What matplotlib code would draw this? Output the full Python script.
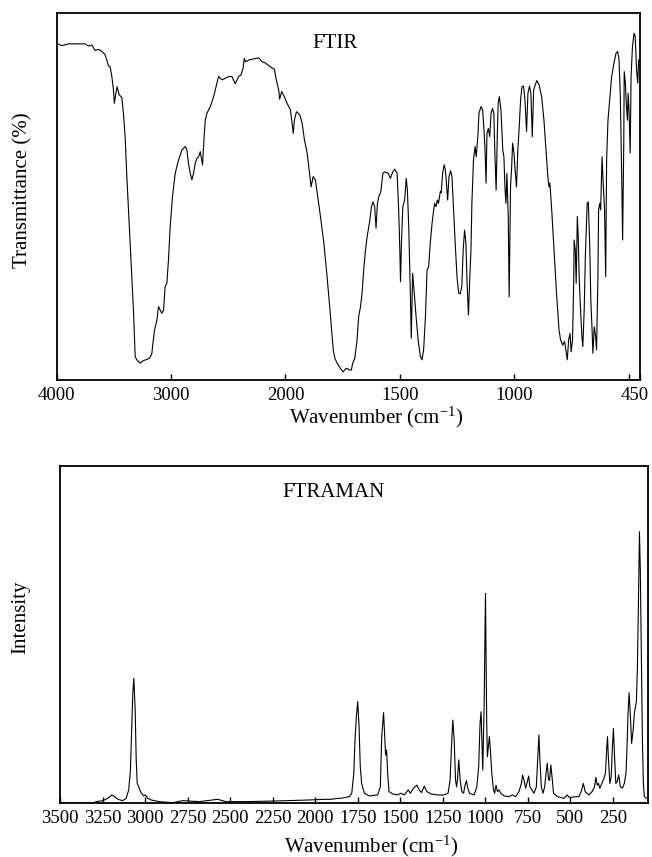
"""
FTIR / FT-Raman spectra, two stacked panels
"""

import numpy as np
import matplotlib
matplotlib.use('Agg')
import matplotlib.pyplot as plt
from matplotlib.transforms import ScaledTranslation

plt.rcParams['font.family'] = ['Liberation Serif', 'DejaVu Serif']
plt.rcParams['mathtext.default'] = 'regular'

# ---------- FTIR data (wavenumber cm-1, transmittance %) ----------
ftir_wn = [4000, 3956, 3898, 3752, 3723, 3694, 3665, 3636, 3606, 3577, 3562, 3548, 3533,
           3518, 3504, 3496, 3483, 3472, 3454, 3431, 3417, 3402, 3387, 3358, 3329, 3314,
           3300, 3271, 3242, 3212, 3192, 3180, 3168, 3159, 3145, 3124, 3110, 3095, 3081,
           3066, 3052, 3037, 3023, 3008, 2988, 2964, 2935, 2905, 2876, 2862, 2848, 2833,
           2818, 2804, 2789, 2774, 2760, 2745, 2725, 2712, 2701, 2686, 2657, 2628, 2614,
           2585, 2555, 2526, 2497, 2468, 2439, 2410, 2389, 2371, 2360, 2348, 2322, 2293,
           2263, 2234, 2205, 2182, 2126, 2097, 2080, 2059, 2051, 2033, 2010, 1996, 1986,
           1978, 1971, 1966, 1961, 1952, 1937, 1927, 1917, 1905, 1898, 1888, 1879, 1869,
           1859, 1847, 1832, 1818, 1803, 1791, 1784, 1774, 1760, 1748, 1738, 1730, 1724,
           1712, 1706, 1697, 1687, 1680, 1672, 1665, 1658, 1650, 1643, 1633, 1624, 1617,
           1610, 1604, 1598, 1592, 1583, 1574, 1566, 1551, 1541, 1531, 1522, 1512, 1505,
           1500, 1497, 1493, 1487, 1479, 1472, 1467, 1461, 1454, 1450, 1444, 1438, 1429,
           1420, 1410, 1403, 1396, 1388, 1381, 1374, 1367, 1359, 1352, 1348, 1342, 1336,
           1331, 1323, 1319, 1313, 1306, 1301, 1296, 1291, 1285, 1278, 1272, 1265, 1258,
           1250, 1243, 1236, 1229, 1223, 1217, 1211, 1206, 1200, 1194, 1189, 1185, 1178,
           1171, 1166, 1159, 1154, 1145, 1138, 1132, 1128, 1123, 1119, 1113, 1107, 1101,
           1095, 1089, 1085, 1079, 1074, 1070, 1065, 1058, 1050, 1045, 1040, 1036, 1032,
           1026, 1022, 1016, 1011, 1007, 1001, 996, 990, 984, 978, 972, 966, 959, 953,
           946, 940, 933, 927, 921, 915, 908, 901, 891, 880, 870, 861, 853, 848, 844,
           836, 826, 815, 804, 797, 788, 780, 774, 768, 762, 756, 751, 745, 740, 738,
           733, 729, 724, 720, 716, 710, 704, 700, 694, 689, 685, 681, 676, 670, 665,
           660, 656, 650, 644, 640, 634, 631, 626, 622, 616, 611, 605, 600, 596, 590,
           584, 574, 564, 555, 548, 542, 536, 530, 526, 521, 519, 514, 510, 505, 502,
           498, 493, 489, 483, 476, 471, 465, 460, 456]
ftir_t = [91.9, 91.2, 91.7, 91.7, 91.1, 91.4, 89.9, 90.2, 89.7, 88.7, 87.3, 85.7, 85.5,
          82.8, 79.1, 75.5, 78.2, 80.0, 77.8, 77.1, 72.8, 66.4, 55.5, 37.3, 19.1, 6.4,
          5.5, 4.6, 5.3, 5.6, 5.9, 6.4, 7.3, 10.0, 13.6, 16.4, 20.0, 19.1, 18.2,
          19.1, 25.5, 26.4, 32.7, 41.8, 50.0, 56.4, 60.0, 62.8, 63.7, 62.8, 59.1, 56.4,
          54.6, 56.4, 59.1, 60.5, 60.9, 62.3, 58.7, 66.0, 70.9, 72.8, 74.6, 77.3, 79.1,
          82.8, 81.9, 82.3, 82.8, 82.8, 80.8, 82.8, 83.2, 85.0, 87.7, 86.8, 87.3, 87.5,
          87.7, 87.9, 86.8, 86.6, 85.3, 84.8, 81.9, 79.1, 76.6, 78.7, 77.3, 75.9, 74.6,
          73.7, 70.0, 67.3, 70.9, 73.2, 72.3, 70.0, 65.5, 61.9, 58.2, 52.7, 55.5, 54.6,
          50.0, 44.6, 37.3, 28.2, 17.3, 8.2, 5.9, 4.6, 3.2, 2.2, 3.0, 3.2, 2.8,
          2.7, 4.6, 5.9, 10.9, 17.3, 20.0, 23.7, 30.0, 35.5, 39.1, 42.8, 47.3, 48.6,
          47.3, 41.4, 48.2, 50.0, 51.4, 56.4, 56.8, 56.4, 55.0, 56.8, 57.5, 56.4, 46.4,
          35.5, 26.8, 37.3, 47.3, 49.1, 55.0, 51.8, 41.8, 23.7, 11.4, 29.1, 24.6, 17.3,
          10.9, 6.4, 5.5, 8.2, 17.3, 30.0, 30.9, 37.3, 42.8, 46.4, 48.2, 47.3, 49.1,
          48.2, 51.4, 51.1, 56.4, 58.7, 57.3, 53.7, 49.1, 55.5, 57.1, 55.5, 46.4, 37.3,
          28.2, 23.7, 23.5, 25.5, 35.5, 40.9, 37.3, 26.4, 17.7, 28.2, 35.5, 48.2, 60.0,
          63.7, 60.9, 66.4, 72.8, 74.6, 73.7, 68.2, 63.7, 53.7, 67.3, 68.6, 66.4, 72.8,
          74.1, 72.8, 62.8, 51.8, 66.4, 75.5, 77.3, 73.7, 62.8, 60.9, 51.8, 48.2, 56.4,
          44.6, 22.7, 52.7, 58.2, 64.6, 61.9, 57.3, 52.7, 62.8, 69.1, 76.4, 80.0, 80.2, 76.4,
          67.8, 78.2, 80.2, 78.2, 66.4, 79.1, 80.5, 81.7, 80.5, 77.3, 70.9, 62.8, 55.5, 52.7, 53.7,
          46.4, 35.5, 23.7, 13.6, 10.9, 9.5, 10.5, 8.2, 5.5, 10.9, 12.7, 7.7, 10.9, 26.4, 38.2,
          35.5, 26.4, 44.6, 39.1, 28.2, 19.1, 11.8, 9.1, 19.1, 33.6, 40.9, 48.2, 48.6, 37.3, 21.8,
          14.5, 7.3, 14.5, 11.8, 8.2, 28.2, 46.4, 48.2, 46.4, 60.9, 53.7, 46.4, 28.2, 60.0, 70.9,
          75.5, 82.8, 86.4, 89.1, 89.6, 87.7, 77.3, 55.5, 38.2, 64.6, 84.1, 81.0, 75.5, 70.9, 78.2,
          73.7, 61.9, 82.8, 90.9, 94.6, 93.7, 84.6, 81.0, 87.3]

# ---------- FT-Raman data (wavenumber cm-1, intensity a.u.) ----------
raman_wn = [3500, 3306, 3287, 3248, 3219, 3195, 3179, 3160, 3131, 3111, 3096, 3086, 3078,
            3072, 3066, 3058, 3052, 3046, 3037, 3027, 3009, 2998, 2984, 2964, 2915, 2837,
            2779, 2681, 2573, 2524, 2407, 2231, 2036, 1938, 1907, 1860, 1848, 1799, 1785,
            1773, 1766, 1758, 1750, 1742, 1735, 1727, 1711, 1682, 1633, 1617, 1609, 1603,
            1598, 1592, 1586, 1580, 1574, 1566, 1545, 1515, 1496, 1477, 1453, 1441, 1422,
            1402, 1389, 1375, 1359, 1344, 1320, 1281, 1242, 1219, 1207, 1199, 1191, 1183,
            1175, 1169, 1164, 1156, 1148, 1138, 1128, 1119, 1111, 1103, 1093, 1066, 1050,
            1039, 1031, 1025, 1019, 1015, 1011, 1007, 1003, 999, 996, 992, 988, 982, 976,
            970, 962, 952, 945, 937, 929, 920, 910, 890, 861, 841, 822, 802, 788, 781, 773,
            763, 753, 745, 738, 726, 714, 700, 692, 685, 679, 671, 661, 651, 641, 636, 628,
            622, 615, 606, 599, 577, 538, 518, 509, 499, 460, 450, 436, 424, 413, 391, 372,
            358, 350, 342, 335, 327, 315, 303, 294, 288, 282, 276, 268, 260, 253, 247, 241,
            233, 225, 216, 206, 194, 183, 173, 167, 161, 155, 147, 140, 131, 124, 112, 106,
            100, 94, 89, 83, 77, 71, 65, 54]
raman_int = [0.0, 0.0, 0.4, 0.7, 1.4, 2.4, 1.9, 1.1, 0.7, 1.4, 3.9, 9.8, 22.6,
             32.5, 37.0, 27.6, 12.8, 5.8, 4.8, 3.4, 2.1, 2.4, 1.4, 0.9, 0.4, 0.1,
             0.7, 0.4, 1.1, 0.4, 0.4, 0.6, 0.9, 1.1, 1.1, 1.4, 1.4, 1.9, 2.9,
             8.8, 18.7, 25.6, 30.1, 22.6, 10.8, 5.8, 2.9, 2.1, 2.4, 4.8, 19.7, 23.6,
             26.8, 20.7, 14.2, 15.7, 8.8, 3.4, 2.7, 2.4, 2.9, 2.4, 3.9, 2.9, 4.4,
             5.3, 3.9, 3.1, 5.0, 3.4, 2.7, 2.4, 2.4, 2.9, 6.8, 16.7, 24.6, 18.7,
             6.8, 4.8, 6.8, 12.8, 6.8, 3.4, 2.9, 5.3, 6.6, 4.4, 2.9, 2.4, 4.8,
             10.8, 23.6, 27.1, 16.7, 9.8, 19.7, 28.6, 46.4, 62.2, 46.4, 24.6, 13.7, 16.7, 19.7,
             15.7, 8.8, 3.9, 2.9, 5.3, 3.4, 3.9, 2.9, 2.1, 1.9, 2.4, 1.9, 3.4, 5.8, 8.3, 6.8,
             4.4, 6.4, 8.0, 4.8, 3.9, 2.9, 4.8, 12.8, 20.2, 12.8, 4.8, 2.9, 4.8, 9.8, 11.8, 6.8,
             6.8, 11.3, 6.8, 2.9, 1.9, 1.4, 2.4, 1.7, 1.7, 1.9, 1.9, 3.4, 5.8, 3.4, 2.4, 3.4,
             4.8, 7.6, 5.3, 5.8, 4.4, 5.8, 7.3, 8.8, 14.7, 19.7, 12.8, 5.8, 7.8, 16.7, 22.1, 14.7,
             5.8, 6.4, 8.3, 4.8, 4.4, 5.8, 8.8, 16.7, 26.6, 32.7, 25.6, 17.7, 21.7, 26.6, 30.1, 40.5,
             59.3, 80.5, 69.1, 44.4, 19.7, 5.8, 1.9, 1.4]

ftir_ticks = [4000, 3000, 2000, 1500, 1000, 500, 450]
ftir_ticklabels = ['4000', '3000', '2000', '1500', '1000', '', '450']
raman_ticks = [3500, 3250, 3000, 2750, 2500, 2250, 2000, 1750, 1500, 1250, 1000, 750, 500, 250]


# the IR chart paper halves its scale above 2000 cm-1
def ir_forward(x):
    x = np.asarray(x, dtype=float)
    return np.where(x <= 2000, x, 2000 + (x - 2000) / 2.0)


def ir_inverse(p):
    p = np.asarray(p, dtype=float)
    return np.where(p <= 2000, p, 2000 + (p - 2000) * 2.0)


def style_axes(ax):
    for sp in ax.spines.values():
        sp.set_linewidth(1.3)
    ax.set_yticks([])
    ax.tick_params(axis='x', direction='in', length=4, width=1, labelsize=13.5, pad=5)


fig = plt.figure(figsize=(6.52, 8.57), dpi=100)

# ========== FTIR ==========
ax1 = fig.add_axes([0.0870, 0.5566, 0.8946, 0.4277])
ax1.set_xscale('function', functions=(ir_forward, ir_inverse))
ax1.plot(ftir_wn, ftir_t, color='black', linewidth=0.8)
ax1.set_xlim(4000, 450)
ax1.set_ylim(0, 100)
ax1.set_xticks(ftir_ticks)
ax1.set_xticklabels(ftir_ticklabels)
ax1.xaxis.set_minor_locator(matplotlib.ticker.NullLocator())
style_axes(ax1)
# "450" sits at the right edge; nudge it left so it stays inside the figure
lab = ax1.get_xticklabels()[-1]
lab.set_transform(lab.get_transform() + ScaledTranslation(-4 / 72, 0, fig.dpi_scale_trans))
ax1.set_xlabel('Wavenumber (cm$^{-1}$)', fontsize=15)
ax1.xaxis.set_label_coords(0.547, -0.068)
ax1.set_ylabel('Transmittance (%)', fontsize=15)
ax1.yaxis.set_label_coords(-0.041, 0.518)
ax1.text(0.439, 0.918, 'FTIR', transform=ax1.transAxes, fontsize=15, va='center', ha='left')

# ========== FT-Raman ==========
ax2 = fig.add_axes([0.0920, 0.0630, 0.9018, 0.3932])
ax2.plot(raman_wn, raman_int, color='black', linewidth=0.8)
ax2.set_xlim(3500, 44)
ax2.set_ylim(0, 100)
ax2.set_xticks(raman_ticks)
style_axes(ax2)
ax2.set_xlabel('Wavenumber (cm$^{-1}$)', fontsize=15)
ax2.xaxis.set_label_coords(0.529, -0.090)
ax2.set_ylabel('Intensity', fontsize=15)
ax2.yaxis.set_label_coords(-0.051, 0.552)
ax2.text(0.379, 0.92, 'FTRAMAN', transform=ax2.transAxes, fontsize=15, va='center', ha='left')

fig.savefig('out.png', dpi=100)
